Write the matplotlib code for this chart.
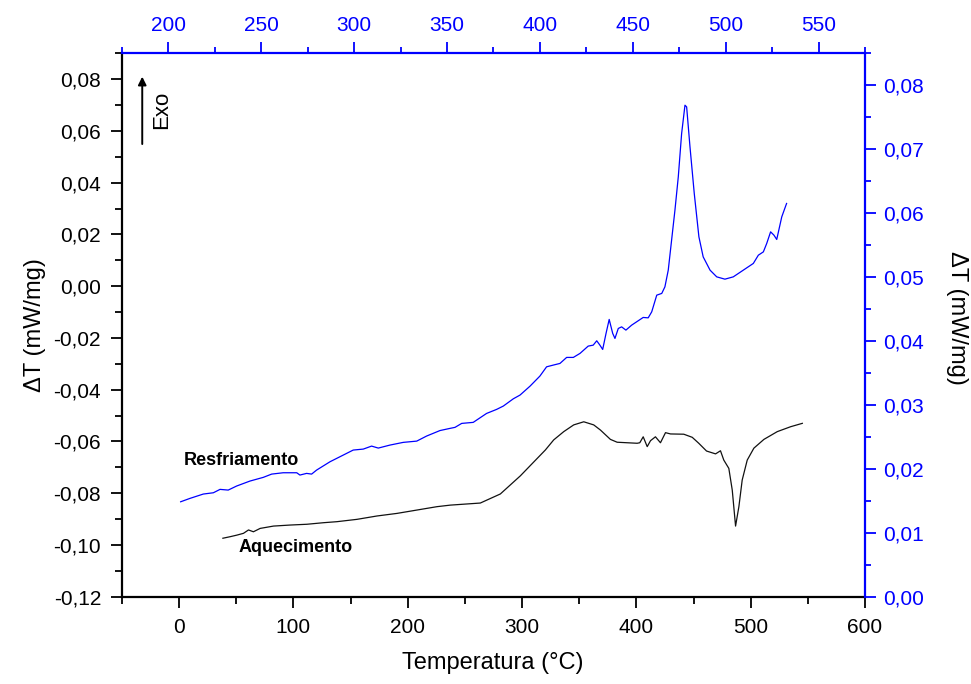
import matplotlib
matplotlib.use("Agg")
import matplotlib.pyplot as plt
from matplotlib import ticker

plt.rcParams['font.family'] = ['Liberation Sans', 'DejaVu Sans']

# Aquecimento (heating) - bottom / left axes
heat_T = [38.3, 44.7, 50.5, 56.3, 60.7, 65.0, 70.9, 82.6, 97.2, 111.8, 126.3, 138.1,
          155.6, 173.1, 190.6, 208.1, 225.6, 237.3, 263.5, 281.0, 298.5, 320.4, 327.7,
          336.5, 345.2, 354.0, 362.7, 368.6, 377.3, 383.2, 400.7, 403.0, 406.0, 409.5,
          412.4, 416.7, 421.1, 425.5, 429.9, 441.5, 448.9, 454.6, 461.4, 469.3, 473.6,
          476.5, 480.9, 483.9, 486.8, 489.7, 492.6, 497.0, 502.8, 511.6, 523.3, 535.0, 545.2]
heat_dT = [-0.0974, -0.0968, -0.0962, -0.0955, -0.0942, -0.0949, -0.0936, -0.0927, -0.0923,
           -0.0920, -0.0914, -0.0910, -0.0901, -0.0888, -0.0878, -0.0865, -0.0852, -0.0846,
           -0.0838, -0.0803, -0.0733, -0.0633, -0.0594, -0.0562, -0.0536, -0.0524, -0.0536,
           -0.0556, -0.0592, -0.0603, -0.0607, -0.0605, -0.0582, -0.0620, -0.0597, -0.0582,
           -0.0605, -0.0566, -0.0571, -0.0572, -0.0584, -0.0607, -0.0637, -0.0648, -0.0636,
           -0.0672, -0.0704, -0.0788, -0.0927, -0.0852, -0.0749, -0.0672, -0.0626, -0.0592,
           -0.0562, -0.0543, -0.0530]

# Resfriamento (cooling) - top / right axes
cool_T = [206.6, 211.6, 218.8, 224.2, 227.8, 232.2, 236.7, 243.9, 251.1, 255.6, 261.8, 269.1,
          270.8, 274.4, 277.1, 279.8, 287.0, 294.1, 299.5, 304.9, 309.4, 313.0, 319.3, 326.4,
          333.7, 339.0, 346.2, 351.6, 354.3, 357.9, 364.1, 371.3, 376.7, 380.3, 385.7, 389.3,
          394.7, 400.0, 403.6, 407.2, 410.8, 414.4, 418.0, 421.6, 426.0, 428.7, 430.6, 432.3,
          433.8, 435.6, 437.3, 439.2, 440.4, 442.2, 444.0, 446.3, 449.4, 455.6, 458.3, 460.2,
          462.9, 465.6, 467.3, 469.1, 470.9, 472.7, 474.5, 476.3, 478.1, 479.0, 480.8, 483.1,
          485.6, 487.9, 491.6, 495.2, 499.6, 504.1, 509.5, 514.9, 517.6, 520.3, 522.1, 524.2,
          526.0, 527.5, 530.2, 532.8]
cool_dT = [0.01485, 0.01538, 0.01606, 0.01626, 0.01679, 0.01668, 0.01731, 0.01809, 0.01867,
           0.01918, 0.01939, 0.01939, 0.01903, 0.01929, 0.01918, 0.01981, 0.02111, 0.02215,
           0.02294, 0.02309, 0.02356, 0.02325, 0.02372, 0.02414, 0.02434, 0.02513, 0.02599,
           0.02633, 0.02649, 0.02711, 0.02727, 0.02867, 0.02930, 0.02982, 0.03096, 0.03154,
           0.03294, 0.03451, 0.03596, 0.03623, 0.03649, 0.03743, 0.03743, 0.03806, 0.03920,
           0.03935, 0.04003, 0.03935, 0.03868, 0.04118, 0.04337, 0.04118, 0.04040, 0.04196,
           0.04221, 0.04170, 0.04248, 0.04368, 0.04362, 0.04456, 0.04717, 0.04744, 0.04847,
           0.05108, 0.05577, 0.06046, 0.06567, 0.07245, 0.07688, 0.07661, 0.07036, 0.06307,
           0.05629, 0.05316, 0.05108, 0.05003, 0.04967, 0.05003, 0.05108, 0.05213, 0.05342,
           0.05394, 0.05525, 0.05707, 0.05655, 0.05588, 0.05941, 0.06151]

bottom_ticks = [0, 100, 200, 300, 400, 500, 600]
top_ticks = [200, 250, 300, 350, 400, 450, 500, 550]
left_ticks = [-0.12, -0.10, -0.08, -0.06, -0.04, -0.02, 0.00, 0.02, 0.04, 0.06, 0.08]
right_ticks = [0.00, 0.01, 0.02, 0.03, 0.04, 0.05, 0.06, 0.07, 0.08]

BLUE = '#0000FF'
comma = ticker.FuncFormatter(lambda v, p: f"{v:.2f}".replace('.', ','))
intfmt = ticker.FuncFormatter(lambda v, p: f"{v:.0f}")

fig = plt.figure(figsize=(9.71, 6.84), dpi=100)
pos = [0.1256, 0.1276, 0.7652, 0.7945]
ax = fig.add_axes(pos)
ax2 = fig.add_axes(pos, label='cool')
ax2.patch.set_visible(False)

ax.plot(heat_T, heat_dT, color='#111111', lw=0.9)
ax2.plot(cool_T, cool_dT, color=BLUE, lw=0.9)

ax.set_xlim(-50, 600)
ax.set_ylim(-0.12, 0.09)
ax2.set_xlim(175, 575)
ax2.set_ylim(0.0, 0.085)

ax.set_xticks(bottom_ticks)
ax.xaxis.set_minor_locator(ticker.MultipleLocator(50))
ax.set_yticks(left_ticks)
ax.yaxis.set_minor_locator(ticker.MultipleLocator(0.01))
ax.yaxis.set_major_formatter(comma)
ax.xaxis.set_major_formatter(intfmt)

ax2.xaxis.tick_top()
ax2.yaxis.tick_right()
ax2.set_xticks(top_ticks)
ax2.xaxis.set_minor_locator(ticker.MultipleLocator(25))
ax2.set_yticks(right_ticks)
ax2.yaxis.set_minor_locator(ticker.MultipleLocator(0.005))
ax2.yaxis.set_major_formatter(comma)
ax2.xaxis.set_major_formatter(intfmt)

for s in ['top', 'right']:
    ax.spines[s].set_visible(False)
for s in ['left', 'bottom']:
    ax2.spines[s].set_visible(False)
for s in ['left', 'bottom']:
    ax.spines[s].set_linewidth(1.6)
    ax.spines[s].set_color('black')
for s in ['top', 'right']:
    ax2.spines[s].set_linewidth(1.6)
    ax2.spines[s].set_color(BLUE)

ax.tick_params(which='major', direction='out', length=8, width=1.3, labelsize=15, pad=7, colors='black')
ax.tick_params(which='minor', direction='out', length=5, width=1.3)
ax2.tick_params(which='major', direction='out', length=8, width=1.3, labelsize=15, pad=5,
                colors=BLUE)
ax2.tick_params(which='minor', direction='out', length=4.5, width=1.3, colors=BLUE)

fig.text(0.5077, 1 - 663 / 684, 'Temperatura (°C)', ha='center', va='center', fontsize=17)
fig.text(35 / 971, 1 - 325 / 684, 'ΔT (mW/mg)', ha='center', va='center', fontsize=17, rotation=90)
fig.text(957 / 971, 1 - 318 / 684, 'ΔT (mW/mg)', ha='center', va='center', fontsize=17, rotation=-90)

ax.text(4.4, -0.0672, 'Resfriamento', fontsize=13, fontweight='bold', ha='left', va='center')
ax.text(51.9, -0.1011, 'Aquecimento', fontsize=13, fontweight='bold', ha='left', va='center')

ax.annotate('', xy=(0.0273, 0.957), xytext=(0.0273, 0.833), xycoords='axes fraction',
            arrowprops=dict(arrowstyle='-|>', color='black', lw=1.4, mutation_scale=12,
                            shrinkA=0, shrinkB=0))
ax.text(0.0535, 0.895, 'Exo', transform=ax.transAxes, rotation=90, ha='center', va='center',
        fontsize=16)

fig.savefig('out.png', dpi=100)
